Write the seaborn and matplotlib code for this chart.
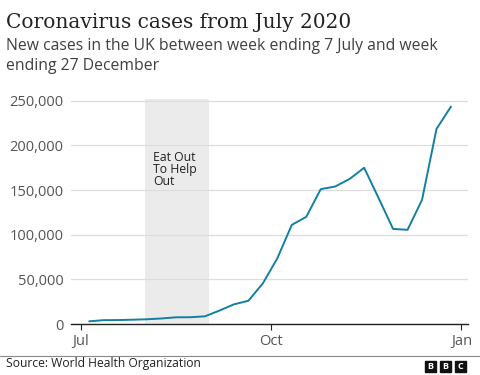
import pandas as pd
import matplotlib.pyplot as plt
from matplotlib.ticker import FuncFormatter
from matplotlib.patches import Rectangle
import seaborn as sns

# ===== data =====
week_ending = pd.date_range('2020-07-05', periods=26, freq='7D')
new_cases = [3000, 4300, 4400, 4800, 5300, 6200, 7500, 7600, 8600, 15000,
             22000, 26000, 45500, 73500, 111000, 120000, 151000, 154000,
             162500, 175000, 141000, 106500, 105500, 139000, 218500, 243500]

shade_start = pd.Timestamp('2020-08-01')
shade_end = pd.Timestamp('2020-09-01')
shade_label = 'Eat Out\nTo Help\nOut'

y_ticks = [0, 50000, 100000, 150000, 200000, 250000]
x_ticks = pd.to_datetime(['2020-07-01', '2020-10-01', '2021-01-01'])
x_tick_labels = ['Jul', 'Oct', 'Jan']

df = pd.DataFrame({'week_ending': week_ending, 'new_cases': new_cases})

# ===== style =====
sns.set_style('white')
plt.rcParams['font.family'] = ['Open Sans', 'DejaVu Sans']

fig = plt.figure(figsize=(4.8, 3.75), dpi=100)
ax = fig.add_axes([0.147, 0.136, 0.827, 0.600])

# Eat Out To Help Out 구간 음영
ax.axvspan(shade_start, shade_end, ymin=0, ymax=1, color='#ebebeb', zorder=0, lw=0)
ax.text(shade_start + pd.Timedelta(days=4), 194000, shade_label, fontsize=8.8,
        color='#222222', va='top', ha='left', linespacing=0.9)

sns.lineplot(data=df, x='week_ending', y='new_cases', ax=ax,
             color='#1380A1', linewidth=1.4, zorder=3)

ax.set_xlim(pd.Timestamp('2020-06-26'), pd.Timestamp('2021-01-04'))
ax.set_ylim(0, 252000)
ax.set_yticks(y_ticks)
ax.yaxis.set_major_formatter(FuncFormatter(lambda v, p: f'{int(v):,}'))
ax.set_xticks(x_ticks)
ax.set_xticklabels(x_tick_labels)

ax.grid(axis='y', color='#dddddd', linewidth=0.9)
ax.grid(axis='x', visible=False)
for s in ['top', 'right', 'left']:
    ax.spines[s].set_visible(False)
ax.spines['bottom'].set_color('#222222')
ax.spines['bottom'].set_linewidth(1.0)
ax.set_axisbelow(True)

ax.tick_params(axis='y', length=0, labelsize=10.5, labelcolor='#555555', pad=5)
ax.tick_params(axis='x', length=4, width=0.8, color='#222222', direction='out',
               labelsize=10.5, labelcolor='#555555', pad=3, bottom=True)
ax.set_xlabel('')
ax.set_ylabel('')

# ===== titles =====
fig.text(0.0125, 0.925, 'Coronavirus cases from July 2020', fontsize=14.5,
         family=['DejaVu Serif'], color='#222222', va='baseline')
fig.text(0.0125, 0.868, 'New cases in the UK between week ending 7 July and week',
         fontsize=11.3, color='#404040', va='baseline')
fig.text(0.0125, 0.812, 'ending 27 December', fontsize=11.3, color='#404040',
         va='baseline')

# ===== footer =====
fig.add_artist(plt.Line2D([0, 1], [0.051, 0.051], transform=fig.transFigure,
                          color='#888888', lw=0.8))
fig.text(0.0125, 0.022, 'Source: World Health Organization', fontsize=8.7,
         color='#222222', va='baseline')

for i, letter in enumerate(['B', 'B', 'C']):
    x0 = (425 + i * 15) / 480
    fig.add_artist(Rectangle((x0, 3 / 375), 11 / 480, 11 / 375,
                             transform=fig.transFigure, color='#111111'))
    fig.text(x0 + 5.5 / 480, 8.5 / 375, letter, fontsize=6.5, color='white',
             ha='center', va='center', weight='bold')

fig.savefig('out.png', dpi=100)
